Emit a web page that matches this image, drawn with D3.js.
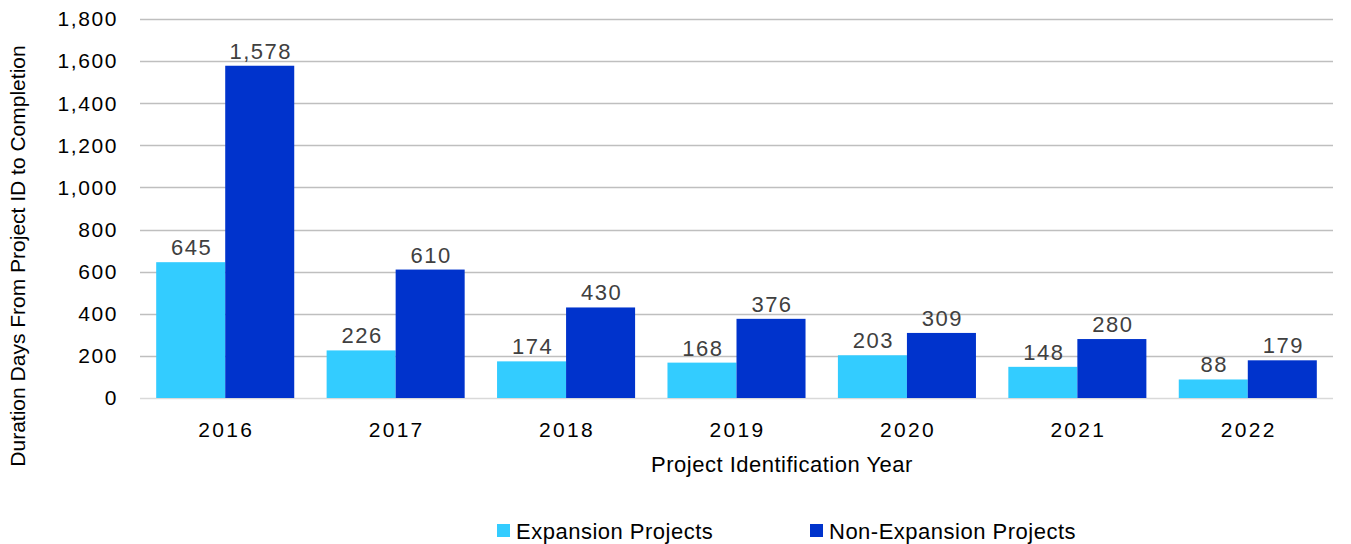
<!DOCTYPE html>
<html>
<head>
<meta charset="utf-8">
<script src="https://cdn.jsdelivr.net/npm/d3@7"></script>
<style>
  html, body { margin: 0; padding: 0; background: #fff; }
  svg { display: block; font-family: "Liberation Sans", Arial, sans-serif; }
</style>
</head>
<body>
<div id="chart"></div>
<script>
// chart data
var years = ['2016', '2017', '2018', '2019', '2020', '2021', '2022'];
var expansion = [645, 226, 174, 168, 203, 148, 88];
var nonExpansion = [1578, 610, 430, 376, 309, 280, 179];
var seriesNames = ['Expansion Projects', 'Non-Expansion Projects'];
var seriesColors = ['#33CCFF', '#0033CC'];
var yTicks = [0, 200, 400, 600, 800, 1000, 1200, 1400, 1600, 1800];

var W = 1351, H = 544;
var m = { left: 140, right: 18, top: 19, bottom: 146 };

var svg = d3.select('#chart').append('svg').attr('width', W).attr('height', H);

var x = d3.scaleBand().domain(years).range([m.left, W - m.right]).paddingInner(0.19).paddingOuter(0.095);
var sub = d3.scaleBand().domain([0, 1]).range([0, x.bandwidth()]);
var y = d3.scaleLinear().domain([0, 1800]).range([H - m.bottom, m.top]);

// gridlines
svg.append('g').selectAll('line').data(yTicks).join('line')
    .attr('x1', m.left).attr('x2', W - m.right)
    .attr('y1', function(d){ return Math.round(y(d)) + 0.5; })
    .attr('y2', function(d){ return Math.round(y(d)) + 0.5; })
    .attr('stroke', function(d){ return d === 0 ? '#d9d9d9' : '#bfbfbf'; })
    .attr('stroke-width', 1.5);

// y tick labels
svg.append('g').selectAll('text').data(yTicks).join('text')
    .attr('x', 118).attr('y', function(d){ return y(d); })
    .attr('dy', '0.35em').attr('text-anchor', 'end')
    .attr('font-size', 21).attr('letter-spacing', 1.6).attr('fill', '#000')
    .text(function(d){ return d3.format(',')(d); });

// bars
var rows = years.map(function(yr, i){ return { year: yr, vals: [expansion[i], nonExpansion[i]] }; });
var grp = svg.append('g').selectAll('g').data(rows).join('g')
    .attr('transform', function(d){ return 'translate(' + x(d.year) + ',0)'; });

grp.selectAll('rect').data(function(d){ return d.vals; }).join('rect')
    .attr('x', function(d, i){ return sub(i); })
    .attr('width', sub.bandwidth())
    .attr('y', function(d){ return y(d); })
    .attr('height', function(d){ return y(0) - y(d); })
    .attr('fill', function(d, i){ return seriesColors[i]; });

grp.selectAll('text').data(function(d){ return d.vals; }).join('text')
    .attr('x', function(d, i){ return sub(i) + sub.bandwidth() / 2 + 1; })
    .attr('y', function(d){ return y(d) - 7; })
    .attr('text-anchor', 'middle')
    .attr('font-size', 22).attr('letter-spacing', 1.5).attr('fill', '#404040')
    .text(function(d){ return d3.format(',')(d); });

// x tick labels
svg.append('g').selectAll('text').data(years).join('text')
    .attr('x', function(d){ return x(d) + x.bandwidth() / 2 + 1; })
    .attr('y', 437).attr('text-anchor', 'middle')
    .attr('font-size', 21).attr('letter-spacing', 2.3).attr('fill', '#000')
    .text(function(d){ return d; });

// axis titles
svg.append('text').attr('x', 782).attr('y', 472).attr('text-anchor', 'middle')
    .attr('font-size', 22).attr('letter-spacing', 0.5).attr('fill', '#000')
    .text('Project Identification Year');

svg.append('text').attr('transform', 'translate(25,' + 256 + ') rotate(-90)')
    .attr('text-anchor', 'middle').attr('font-size', 21).attr('fill', '#000')
    .text('Duration Days From Project ID to Completion');

// legend
var legX = [497, 810];
var leg = svg.append('g').selectAll('g').data(seriesNames).join('g')
    .attr('transform', function(d, i){ return 'translate(' + legX[i] + ',531)'; });
leg.append('rect').attr('x', 0).attr('y', -7).attr('width', 13).attr('height', 13)
    .attr('fill', function(d, i){ return seriesColors[i]; });
leg.append('text').attr('x', 19).attr('dy', '0.35em')
    .attr('font-size', 22).attr('letter-spacing', 0.5).attr('fill', '#000')
    .text(function(d){ return d; });
</script>
</body>
</html>
